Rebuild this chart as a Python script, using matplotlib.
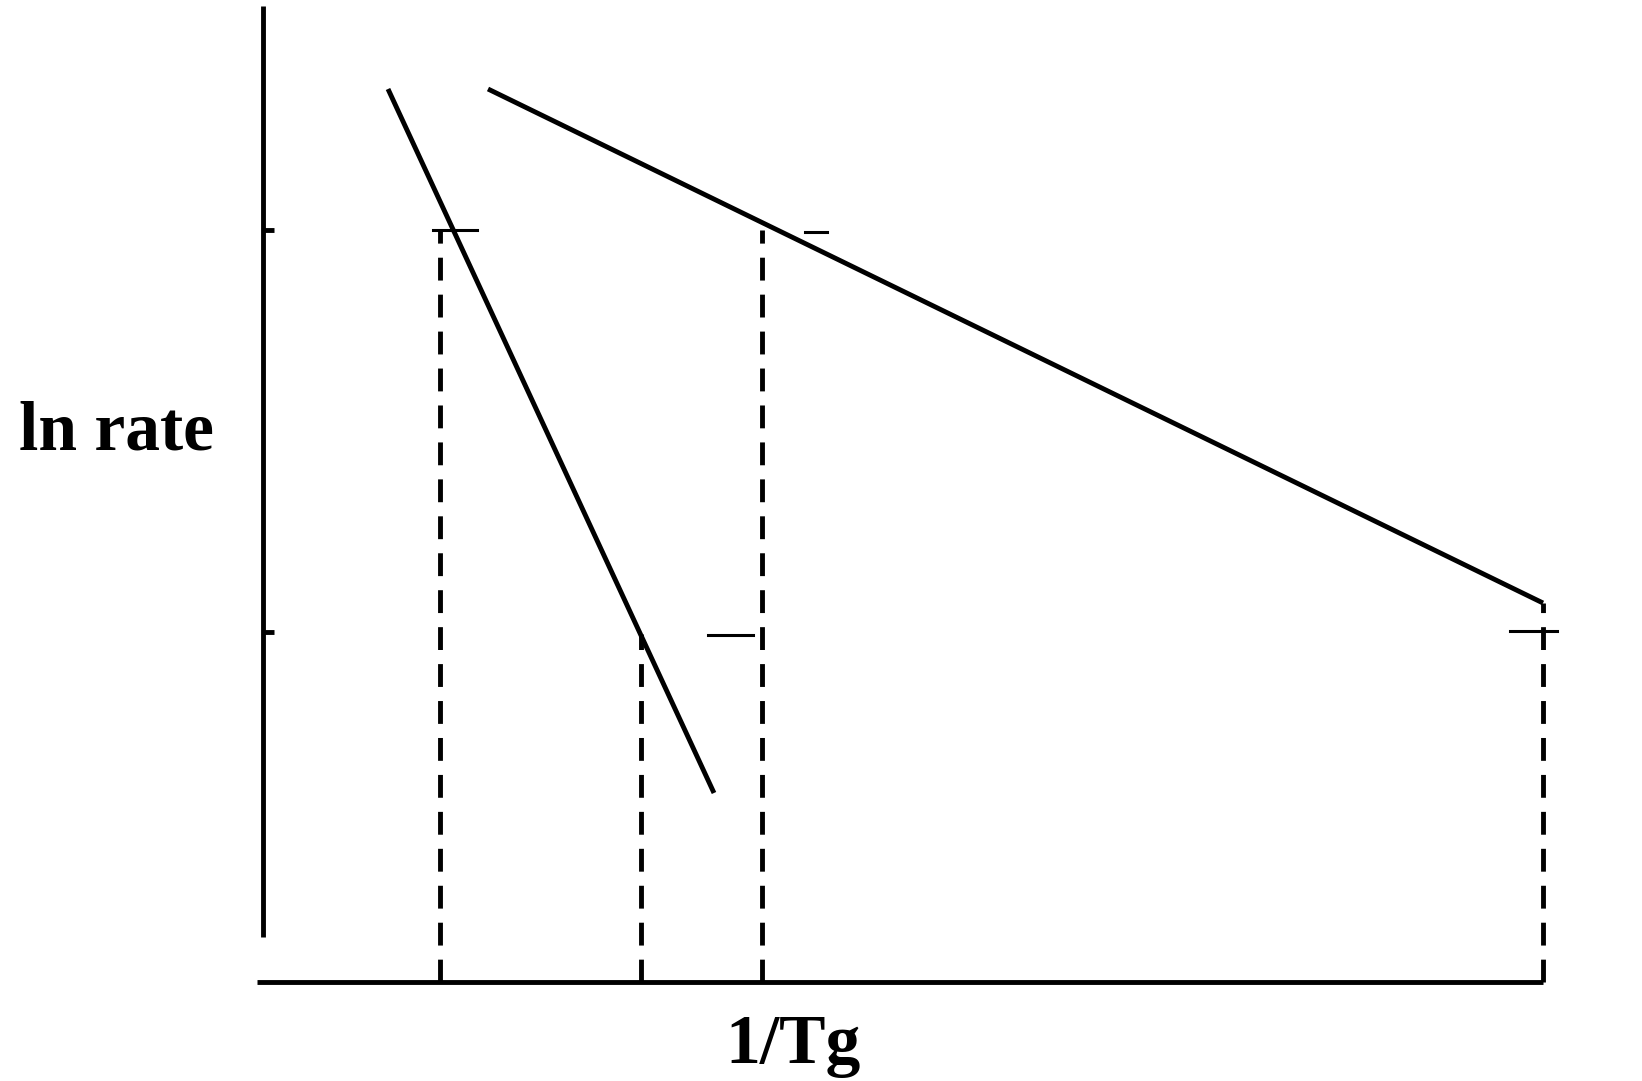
import matplotlib
matplotlib.use("Agg")
import matplotlib.pyplot as plt

# schematic: ln rate vs 1/Tg (arbitrary units)
steep_x = [1.31, 4.57]
steep_y = [8.93, 1.89]
shallow_x = [2.31, 12.86]
shallow_y = [8.93, 3.79]

# dashed drop lines: x position and top
drop_x = [1.83, 3.84, 5.05, 12.86]
drop_top = [7.52, 3.48, 7.52, 3.79]

# levels marked on the y axis
level_y = [3.50, 7.52]

# short leftover marks at the crossings (x0, x1, y)
marks = [(1.76, 2.20, 7.52), (5.48, 5.70, 7.50), (4.51, 4.96, 3.47), (12.53, 13.0, 3.51)]

fig = plt.figure(figsize=(16.42, 10.81), dpi=100)
ax = fig.add_axes([0, 0, 1, 1])
ax.set_xlim(-2.57, 13.85)
ax.set_ylim(-0.99, 9.82)

lw = 3.5
ax.plot(steep_x, steep_y, color="black", lw=lw, solid_capstyle="butt")
ax.plot(shallow_x, shallow_y, color="black", lw=lw, solid_capstyle="butt")

for x, top in zip(drop_x, drop_top):
    ax.plot([x, x], [0, top], color="black", lw=lw, linestyle=(0, (4.7, 2.9)))

for x0, x1, y in marks:
    ax.plot([x0, x1], [y, y], color="black", lw=2.2)

for s in ["top", "right"]:
    ax.spines[s].set_visible(False)
ax.spines["left"].set_position(("data", 0.06))
ax.spines["left"].set_bounds(0.45, 9.76)
ax.spines["bottom"].set_position(("data", 0))
ax.spines["bottom"].set_bounds(0, 12.86)
for s in ["left", "bottom"]:
    ax.spines[s].set_linewidth(lw)
    ax.spines[s].set_capstyle("butt")

ax.set_xticks([])
ax.set_yticks(level_y)
ax.set_yticklabels([])
ax.tick_params(axis="y", direction="in", length=8, width=lw)
ax.patch.set_visible(False)

font = dict(family="Liberation Serif", weight="bold", fontsize=50)
fig.text(0.071, 0.600, "ln rate", ha="center", va="center", **font)
fig.text(0.483, 0.032, "1/Tg", ha="center", va="center", **font)

fig.savefig("out.png", dpi=100, facecolor="white")
